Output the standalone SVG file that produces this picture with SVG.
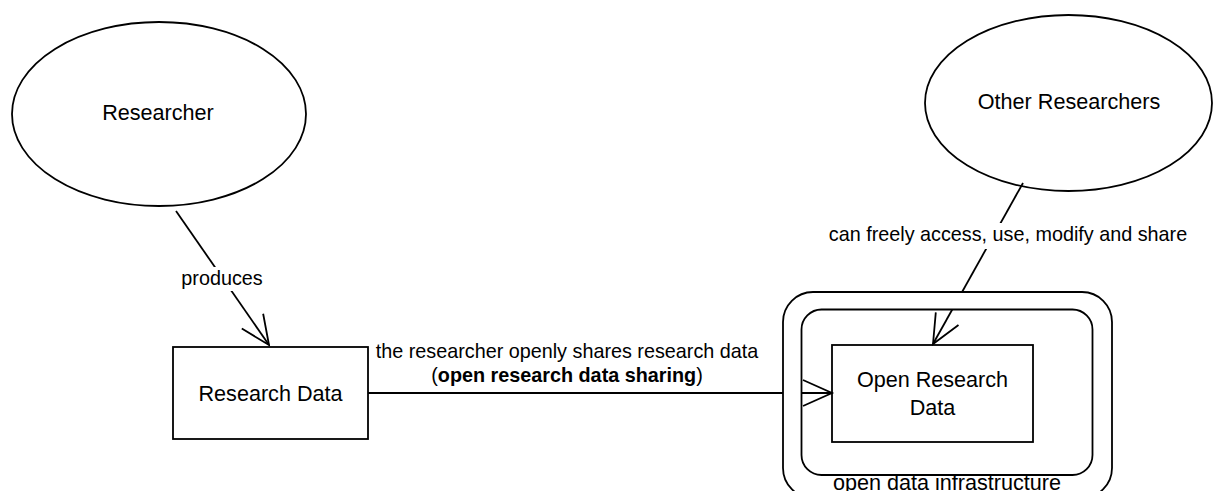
<svg xmlns="http://www.w3.org/2000/svg" width="1213" height="491" viewBox="0 0 1213 491">
  <style>
    .shape { fill: #ffffff; stroke: #000000; stroke-width: 1.8; }
    .edge { fill: none; stroke: #000000; stroke-width: 1.8; }
    .node-text { font-family: "Liberation Sans", Arial, Helvetica, sans-serif; font-size: 21.6px; fill: #000000; text-anchor: middle; }
    .edge-text { font-family: "Liberation Sans", Arial, Helvetica, sans-serif; font-size: 19.8px; fill: #000000; text-anchor: middle; }
    .label-bg { fill: #ffffff; stroke: none; }
  </style>
  <defs>
    <marker id="open-arrow" markerUnits="userSpaceOnUse" viewBox="-32 -16 34 32" refX="0" refY="0" markerWidth="34" markerHeight="32" orient="auto" overflow="visible">
      <path d="M-29,-13 L0,0 L-29,13" fill="none" stroke="#000000" stroke-width="1.8"/>
    </marker>
  </defs>
  <rect x="0" y="0" width="1213" height="491" fill="#ffffff"/>

  <g id="node-researcher">
    <ellipse class="shape" cx="159" cy="114" rx="147" ry="92"/>
    <text class="node-text" x="158" y="120">Researcher</text>
  </g>

  <g id="node-other-researchers">
    <ellipse class="shape" cx="1068.5" cy="103" rx="143.5" ry="88"/>
    <text class="node-text" x="1069" y="109">Other Researchers</text>
  </g>

  <g id="node-research-data">
    <rect class="shape" x="173" y="347" width="195" height="92"/>
    <text class="node-text" x="270.5" y="401">Research Data</text>
  </g>

  <g id="node-open-research-data">
    <rect class="shape" x="832" y="345" width="201" height="97"/>
    <text class="node-text" x="932.5" y="387">Open Research</text>
    <text class="node-text" x="932.5" y="415">Data</text>
  </g>

  <g id="connectors">
    <g id="edge-produces">
      <path class="edge" d="M176,211 L269,345" marker-end="url(#open-arrow)"/>
      <rect class="label-bg" x="180" y="267" width="84" height="24"/>
      <text class="edge-text" x="222" y="285">produces</text>
    </g>
    <g id="edge-shares">
      <path class="edge" d="M368,393 L832,393" marker-end="url(#open-arrow)"/>
      <text class="edge-text" x="567" y="358">the researcher openly shares research data</text>
      <text class="edge-text" x="567" y="382">(<tspan font-weight="bold">open research data sharing</tspan>)</text>
    </g>
    <g id="edge-access">
      <path class="edge" d="M1023,183 L933,344" marker-end="url(#open-arrow)"/>
      <rect class="label-bg" x="824" y="223" width="368" height="26"/>
      <text class="edge-text" x="1008" y="241">can freely access, use, modify and share</text>
    </g>
  </g>

  <g id="node-open-data-infrastructure">
    <path fill="#ffffff" fill-rule="evenodd" stroke="none"
      d="M813,292 H1082 A30,30 0 0 1 1112,322 V468 A30,30 0 0 1 1082,498 H813 A30,30 0 0 1 783,468 V322 A30,30 0 0 1 813,292 Z
         M821.5,309.5 H1072.5 A20,20 0 0 1 1092.5,329.5 V455 A20,20 0 0 1 1072.5,475 H821.5 A20,20 0 0 1 801.5,455 V329.5 A20,20 0 0 1 821.5,309.5 Z"/>
    <rect x="783" y="292" width="329" height="206" rx="30" ry="30" fill="none" stroke="#000000" stroke-width="1.8"/>
    <rect x="801.5" y="309.5" width="291" height="165.5" rx="20" ry="20" fill="none" stroke="#000000" stroke-width="1.8"/>
    <text class="node-text" x="947" y="490">open data infrastructure</text>
  </g>
</svg>
